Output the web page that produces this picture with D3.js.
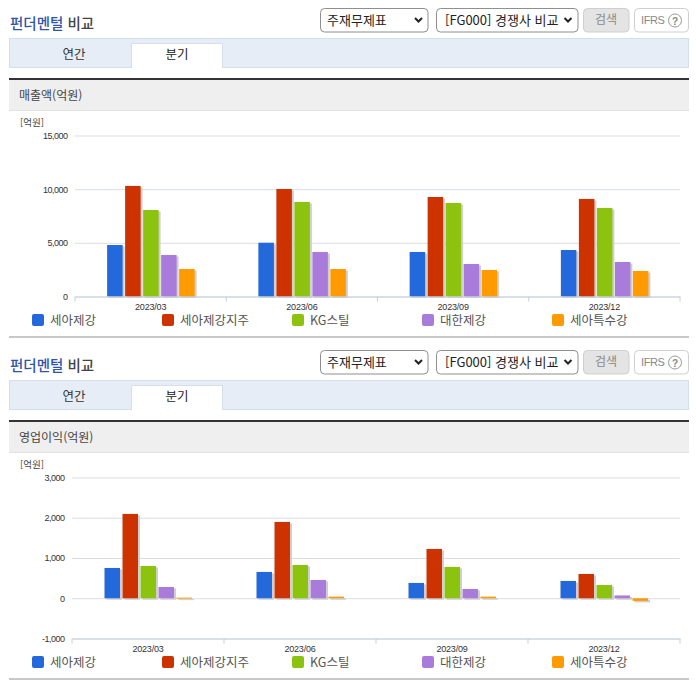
<!DOCTYPE html>
<html lang="ko">
<head>
<meta charset="utf-8">
<script src="https://cdn.jsdelivr.net/npm/d3@7"></script>
<style>
html,body{margin:0;padding:0;background:#fff;overflow:hidden}
svg{display:block}
text{font-family:"Noto Sans CJK KR","Noto Sans",sans-serif}
.num{font-family:"Liberation Sans",sans-serif}
</style>
</head>
<body>
<svg id="c" width="696" height="684"></svg>
<script>
const periods = ["2023/03","2023/06","2023/09","2023/12"];
const companies = ["세아제강","세아제강지주","KG스틸","대한제강","세아특수강"];
const colors = ["#2369DC","#CC3300","#8CC30F","#A97BDB","#FF9A00"];
const revenueTitle = "매출액(억원)";
const revenueTicks = [0,5000,10000,15000];
const revSeAH = [4800,5010,4150,4330];
const revSeAHHold = [10300,10020,9270,9090];
const revKG = [8060,8810,8710,8250];
const revDaehan = [3870,4150,3030,3215];
const revSeAHSpecial = [2560,2560,2470,2380];
const profitTitle = "영업이익(억원)";
const profitTicks = [-1000,0,1000,2000,3000];
const opSeAH = [753,654,380,430];
const opSeAHHold = [2095,1896,1225,604];
const opKG = [803,827,778,330];
const opDaehan = [280,455,231,70];
const opSeAHSpecial = [15,40,40,-65];

const svg = d3.select("#c");
const fmt = v => d3.format(",")(v).replace("\u2212","-");

function panel(dy, title, ticks, rows, yTop, yBottom, xLeft) {
  const g = svg.append("g").attr("transform", `translate(0,${dy})`);
  // heading
  const head = g.append("text").attr("x",10).attr("y",28.5).attr("font-size",14.5).attr("font-weight",500);
  head.append("tspan").attr("fill","#2F54A8").text("펀더멘털");
  head.append("tspan").attr("fill","#444").text(" 비교");
  // selects
  const ctl = (x,w,fill,stroke) => g.append("rect").attr("x",x).attr("y",8.5).attr("width",w).attr("height",23.5).attr("rx",4).attr("fill",fill).attr("stroke",stroke);
  const chev = x => g.append("path").attr("d",`M${x},18 l3.5,3.5 l3.5,-3.5`).attr("fill","none").attr("stroke","#222").attr("stroke-width",2);
  ctl(320.5,107.5,"#fff","#8f8f8f");
  g.append("text").attr("x",327).attr("y",25).attr("font-size",13).attr("fill","#222").text("주재무제표");
  chev(415);
  ctl(436.5,141.5,"#fff","#8f8f8f");
  g.append("text").attr("x",445).attr("y",25).attr("font-size",13).attr("fill","#222").text("[FG000] 경쟁사 비교");
  chev(564.5);
  ctl(583.5,45.5,"#e4e4e4","#cfcfcf");
  g.append("text").attr("x",606).attr("y",24).attr("font-size",12).attr("text-anchor","middle").attr("fill","#8a8a8a").text("검색");
  ctl(634.5,54,"#fff","#cfcfcf");
  g.append("text").attr("class","num").attr("x",641).attr("y",24).attr("font-size",11).attr("letter-spacing",-0.4).attr("fill","#888").text("IFRS");
  g.append("circle").attr("cx",675).attr("cy",20.5).attr("r",6.5).attr("fill","#fff").attr("stroke","#999");
  g.append("text").attr("class","num").attr("x",675).attr("y",24.5).attr("font-size",10).attr("font-weight",700).attr("text-anchor","middle").attr("fill","#888").text("?");
  // tab bar
  g.append("rect").attr("x",9.5).attr("y",38.5).attr("width",679).attr("height",29).attr("fill","#E7EDF7").attr("stroke","#D6DEEA");
  g.append("path").attr("d","M131.5,68 V43.5 H222.5 V68").attr("fill","#fff").attr("stroke","#D6DEEA");
  g.append("text").attr("x",74).attr("y",59).attr("font-size",12.5).attr("text-anchor","middle").attr("fill","#333").text("연간");
  g.append("text").attr("x",177).attr("y",59).attr("font-size",12.5).attr("text-anchor","middle").attr("fill","#222").text("분기");
  // section band
  g.append("rect").attr("x",9).attr("y",80).attr("width",680).attr("height",30.5).attr("fill","#EFEFEF");
  g.append("rect").attr("x",9).attr("y",110).attr("width",680).attr("height",1).attr("fill","#E2E2E2");
  g.append("rect").attr("x",9).attr("y",78).attr("width",680).attr("height",2).attr("fill","#333");
  g.append("text").attr("x",19).attr("y",99.5).attr("font-size",12).attr("fill","#444").text(title);
  g.append("text").attr("x",20).attr("y",126).attr("font-size",9.5).attr("fill","#444").text("[억원]");

  // chart
  const y = d3.scaleLinear().domain([ticks[0], ticks[ticks.length-1]]).range([yBottom,yTop]);
  const x = d3.scaleBand().domain(periods).range([xLeft,680]);
  const inner = d3.scaleBand().domain(companies).range([0,87.5]).paddingInner(0.139);
  const xOff = x.bandwidth()/2 - 43.5;

  const yAxis = g.append("g").attr("transform",`translate(${xLeft},0)`)
    .call(d3.axisLeft(y).tickValues(ticks).tickFormat(fmt).tickSize(-(680-xLeft)).tickPadding(7.5));
  yAxis.select(".domain").remove();
  yAxis.selectAll("line").attr("stroke","#DADDE2");
  yAxis.selectAll("text").attr("class","num").attr("font-size",9).attr("letter-spacing",-0.5).attr("fill","#333");

  const layer = g.append("g");
  rows.forEach((vals,i) => {
    const c = companies[i];
    const rect = (sel) => sel
      .attr("x",(d,j)=>x(periods[j])+xOff+inner(c))
      .attr("y",d=>y(Math.max(0,d)))
      .attr("width",inner.bandwidth())
      .attr("height",d=>Math.max(1,Math.abs(y(d)-y(0))));
    layer.selectAll(null).data(vals).join("rect").call(rect)
      .attr("transform","translate(2,1.5)").attr("fill","#CFCFCF");
    layer.selectAll(null).data(vals).join("rect").call(rect).attr("fill",colors[i]);
  });

  const xAxis = g.append("g").attr("transform",`translate(0,${yBottom})`)
    .call(d3.axisBottom(x).tickSize(0).tickPadding(7));
  xAxis.select(".domain").attr("stroke","#C5D0DE");
  xAxis.selectAll("text").attr("class","num").attr("font-size",9).attr("letter-spacing",-0.2).attr("fill","#333");
  g.append("g").selectAll("line").data(x.domain().map(d=>x(d)).concat([680])).join("line")
    .attr("x1",d=>d).attr("x2",d=>d).attr("y1",yBottom).attr("y2",yBottom+5).attr("stroke","#C5D0DE");

  // legend
  const lg = g.append("g").selectAll("g").data(companies).join("g")
    .attr("transform",(d,i)=>`translate(${32+130*i},314)`);
  lg.append("rect").attr("width",12).attr("height",12).attr("rx",2).attr("fill",(d,i)=>colors[i]);
  lg.append("text").attr("x",18).attr("y",11).attr("font-size",12.5).attr("fill","#555").text(d=>d);
  // bottom rule
  g.append("rect").attr("x",9).attr("y",336).attr("width",680).attr("height",2).attr("fill","#C8C8C8");
}

panel(0, revenueTitle, revenueTicks,
  [revSeAH,revSeAHHold,revKG,revDaehan,revSeAHSpecial], 135.5, 296.5, 75);
panel(342, profitTitle, profitTicks,
  [opSeAH,opSeAHHold,opKG,opDaehan,opSeAHSpecial], 135.5, 296.5, 72);
</script>
</body>
</html>
